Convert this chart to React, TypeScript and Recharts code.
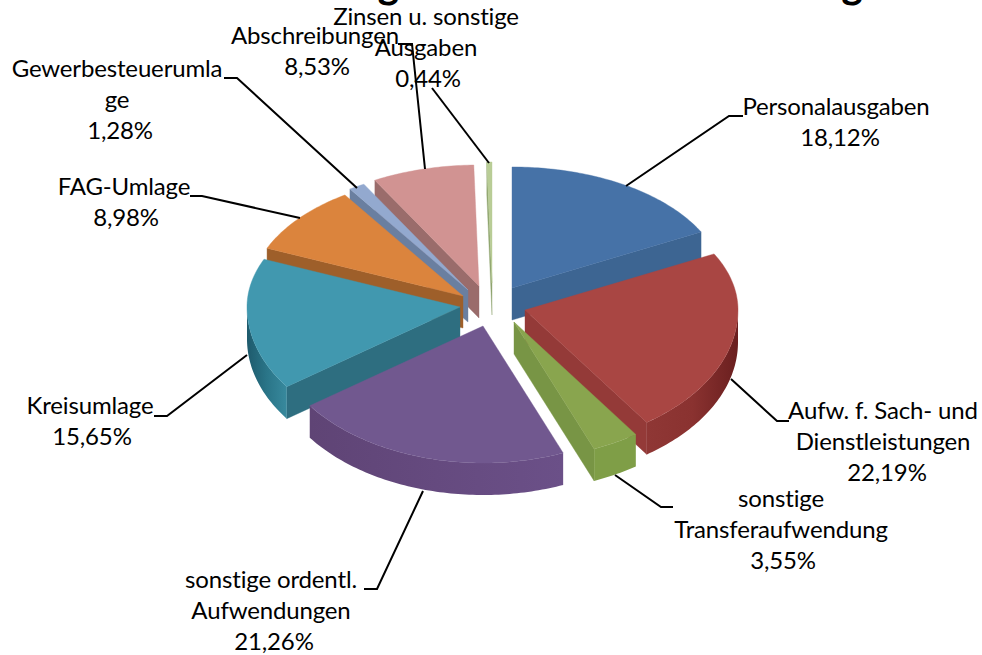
import React from "react";
import { PieChart, Pie } from "recharts";

// ---- data -------------------------------------------------------------
const categories = [
  "Personalausgaben",
  "Aufw. f. Sach- und Dienstleistungen",
  "sonstige Transferaufwendung",
  "sonstige ordentl. Aufwendungen",
  "Kreisumlage",
  "FAG-Umlage",
  "Gewerbesteuerumlage",
  "Abschreibungen",
  "Zinsen u. sonstige Ausgaben",
];
const shares = [18.12, 22.19, 3.55, 21.26, 15.65, 8.98, 1.28, 8.53, 0.44];
const wrappedNames = [
  ["Personalausgaben"],
  ["Aufw. f. Sach- und", "Dienstleistungen"],
  ["sonstige", "Transferaufwendung"],
  ["sonstige ordentl.", "Aufwendungen"],
  ["Kreisumlage"],
  ["FAG-Umlage"],
  ["Gewerbesteuerumla", "ge"],
  ["Abschreibungen"],
  ["Zinsen u. sonstige", "Ausgaben"],
];
const rows = categories.map((name, i) => ({ name, value: shares[i] }));

// ---- styles and layout ------------------------------------------------
const topColors = ["#4672A7", "#A94643", "#89A54E", "#71588F", "#4198AF", "#DB843D", "#93A9CF", "#D19392", "#B9CD96"];
const sideColors = ["#3D6592", "#943A38", "#789545", "#64497F", "#2E6E80", "#9E5F2A", "#6A7FA0", "#9A6C6B", "#8FA56F"];
const rimStops = [
  ["#3D6592", "#3D6592"],
  ["#8F3735", "#8A3230", "#6A1F1F"],
  ["#7F9E47", "#7F9E47"],
  ["#5F4475", "#654A7F", "#6B5088"],
  ["#1E5A6C", "#2A7588", "#38899D"],
  ["#9E5F2A", "#9E5F2A"],
  ["#6A7FA0", "#6A7FA0"],
  ["#9A6C6B", "#9A6C6B"],
  ["#8FA56F", "#8FA56F"],
];
const apexX = [512, 525, 514, 483, 460, 463, 468, 479, 492];
const apexY = [288, 310, 322, 326, 307, 296, 290, 286, 283];
const paintOrder = [8, 7, 6, 5, 4, 3, 0, 1, 2];
const DEPTH = 32;
const RX = 213;
const RY = 137;
const KY = 0.132;
const KX = 0.13;

const labelCenterX = [836, 883, 781, 271, 90, 124, 117, 315, 426];
const pctCenterX = [840, 887, 783, 274, 92, 126, 120, 317, 428];
const labelBaseY = [115, 419, 507, 588, 414, 195, 77, 44, 25];
const leaders = [
  "626,186 729,116 743,116",
  "731,379 777,421 789,421",
  "615,475 661,507 673,507",
  "423,491 377,589 364,589",
  "247,355 167,416 154,416",
  "300,218 202,196 190,196",
  "357,188 237,78 224,78",
  "425,169 412,44 398,44",
  "489,163 432,88",
];
const FONT = "Lato, sans-serif";
const TITLE = "Gliederung der ordentlichen Aufwendung";

// ---- projection -------------------------------------------------------
function project(theta: number, ax: number, ay: number, drop = 0): [number, number] {
  const r = (theta * Math.PI) / 180;
  const X = Math.sin(r);
  const Y = Math.cos(r);
  const back = Math.max(Y, 0);
  const b2 = back * back;
  return [ax + (X * RX) / (1 + KX * b2), ay - (Y * RY) / (1 + KY * b2) + drop];
}
function arc(a: number, b: number, ax: number, ay: number, drop = 0): [number, number][] {
  const pts: [number, number][] = [];
  const n = Math.max(2, Math.ceil(Math.abs(b - a)));
  for (let k = 0; k <= n; k++) pts.push(project(a + ((b - a) * k) / n, ax, ay, drop));
  return pts;
}
const toPath = (pts: [number, number][]) =>
  "M" + pts.map((p) => p[0].toFixed(2) + " " + p[1].toFixed(2)).join("L") + "Z";

const sliceShape = (only: number) => (props: any) => {
  if (props.index !== only) return <g />;
  const i = only;
  const ts = 90 - props.startAngle;
  const te = 90 - props.endAngle;
  const ax = apexX[i];
  const ay = apexY[i];
  const sinS = Math.sin((ts * Math.PI) / 180);
  const sinE = Math.sin((te * Math.PI) / 180);
  const sP = project(ts, ax, ay);
  const eP = project(te, ax, ay);
  const gid = "rim" + i;
  const r0 = Math.max(ts, 90);
  const r1 = Math.min(te, 270);
  const hasRim = r1 > r0;
  const stops = rimStops[i];
  return (
    <g>
      {sinS < -0.001 && (
        <path
          d={toPath([[ax, ay], sP, [sP[0], sP[1] + DEPTH], [ax, ay + DEPTH]])}
          fill={sideColors[i]}
          stroke={sideColors[i]}
          strokeWidth={0.4}
        />
      )}
      {sinE > 0.001 && (
        <path
          d={toPath([[ax, ay], eP, [eP[0], eP[1] + DEPTH], [ax, ay + DEPTH]])}
          fill={sideColors[i]}
          stroke={sideColors[i]}
          strokeWidth={0.4}
        />
      )}
      {hasRim && (
        <>
          <defs>
            <linearGradient id={gid} x1="0" y1="0" x2="1" y2="0">
              {stops.map((c, k) => (
                <stop key={k} offset={k / (stops.length - 1)} stopColor={c} />
              ))}
            </linearGradient>
          </defs>
          <path
            d={toPath([...arc(r0, r1, ax, ay), ...arc(r1, r0, ax, ay, DEPTH)])}
            fill={`url(#${gid})`}
          />
        </>
      )}
      <path
        d={toPath([[ax, ay], ...arc(ts, te, ax, ay)])}
        fill={topColors[i]}
        stroke={topColors[i]}
        strokeWidth={0.4}
      />
    </g>
  );
};

const renderLabel = (props: any) => {
  const i = props.index;
  const lines = wrappedNames[i];
  const base = labelBaseY[i];
  const pct = shares[i].toFixed(2).replace(".", ",") + "%";
  return (
    <g key={i}>
      <polyline points={leaders[i]} fill="none" stroke="#000" strokeWidth={2} />
      {lines.map((t, k) => (
        <text key={k} x={labelCenterX[i]} y={base + k * 31} textAnchor="middle" fontFamily={FONT} fontSize={24} letterSpacing={-0.15} fill="#000">
          {t}
        </text>
      ))}
      <text x={pctCenterX[i]} y={base + lines.length * 31} textAnchor="middle" fontFamily={FONT} fontSize={24} letterSpacing={-0.15} fill="#000">
        {pct}
      </text>
    </g>
  );
};

export default function App() {
  return (
    <div style={{ position: "absolute", left: 0, top: 0, width: 982, height: 655, background: "#fff" }}>
      <PieChart width={982} height={655} margin={{ top: 0, right: 0, bottom: 0, left: 0 }}>
        <text x={860} y={-2} textAnchor="end" fontFamily={FONT} fontWeight={900} fontSize={40} letterSpacing={-2.8} fill="#000">
          {TITLE}
        </text>
        {paintOrder.map((i) => (
          <Pie
            key={i}
            data={rows}
            dataKey="value"
            nameKey="name"
            cx={490}
            cy={300}
            outerRadius={130}
            startAngle={90}
            endAngle={-270}
            stroke="none"
            isAnimationActive={false}
            shape={sliceShape(i)}
            label={false}
            labelLine={false}
          />
        ))}
        <Pie
          key="labels"
          data={rows}
          dataKey="value"
          nameKey="name"
          cx={490}
          cy={300}
          outerRadius={130}
          startAngle={90}
          endAngle={-270}
          isAnimationActive={false}
          shape={() => <g />}
          label={renderLabel}
          labelLine={false}
        />
      </PieChart>
    </div>
  );
}
